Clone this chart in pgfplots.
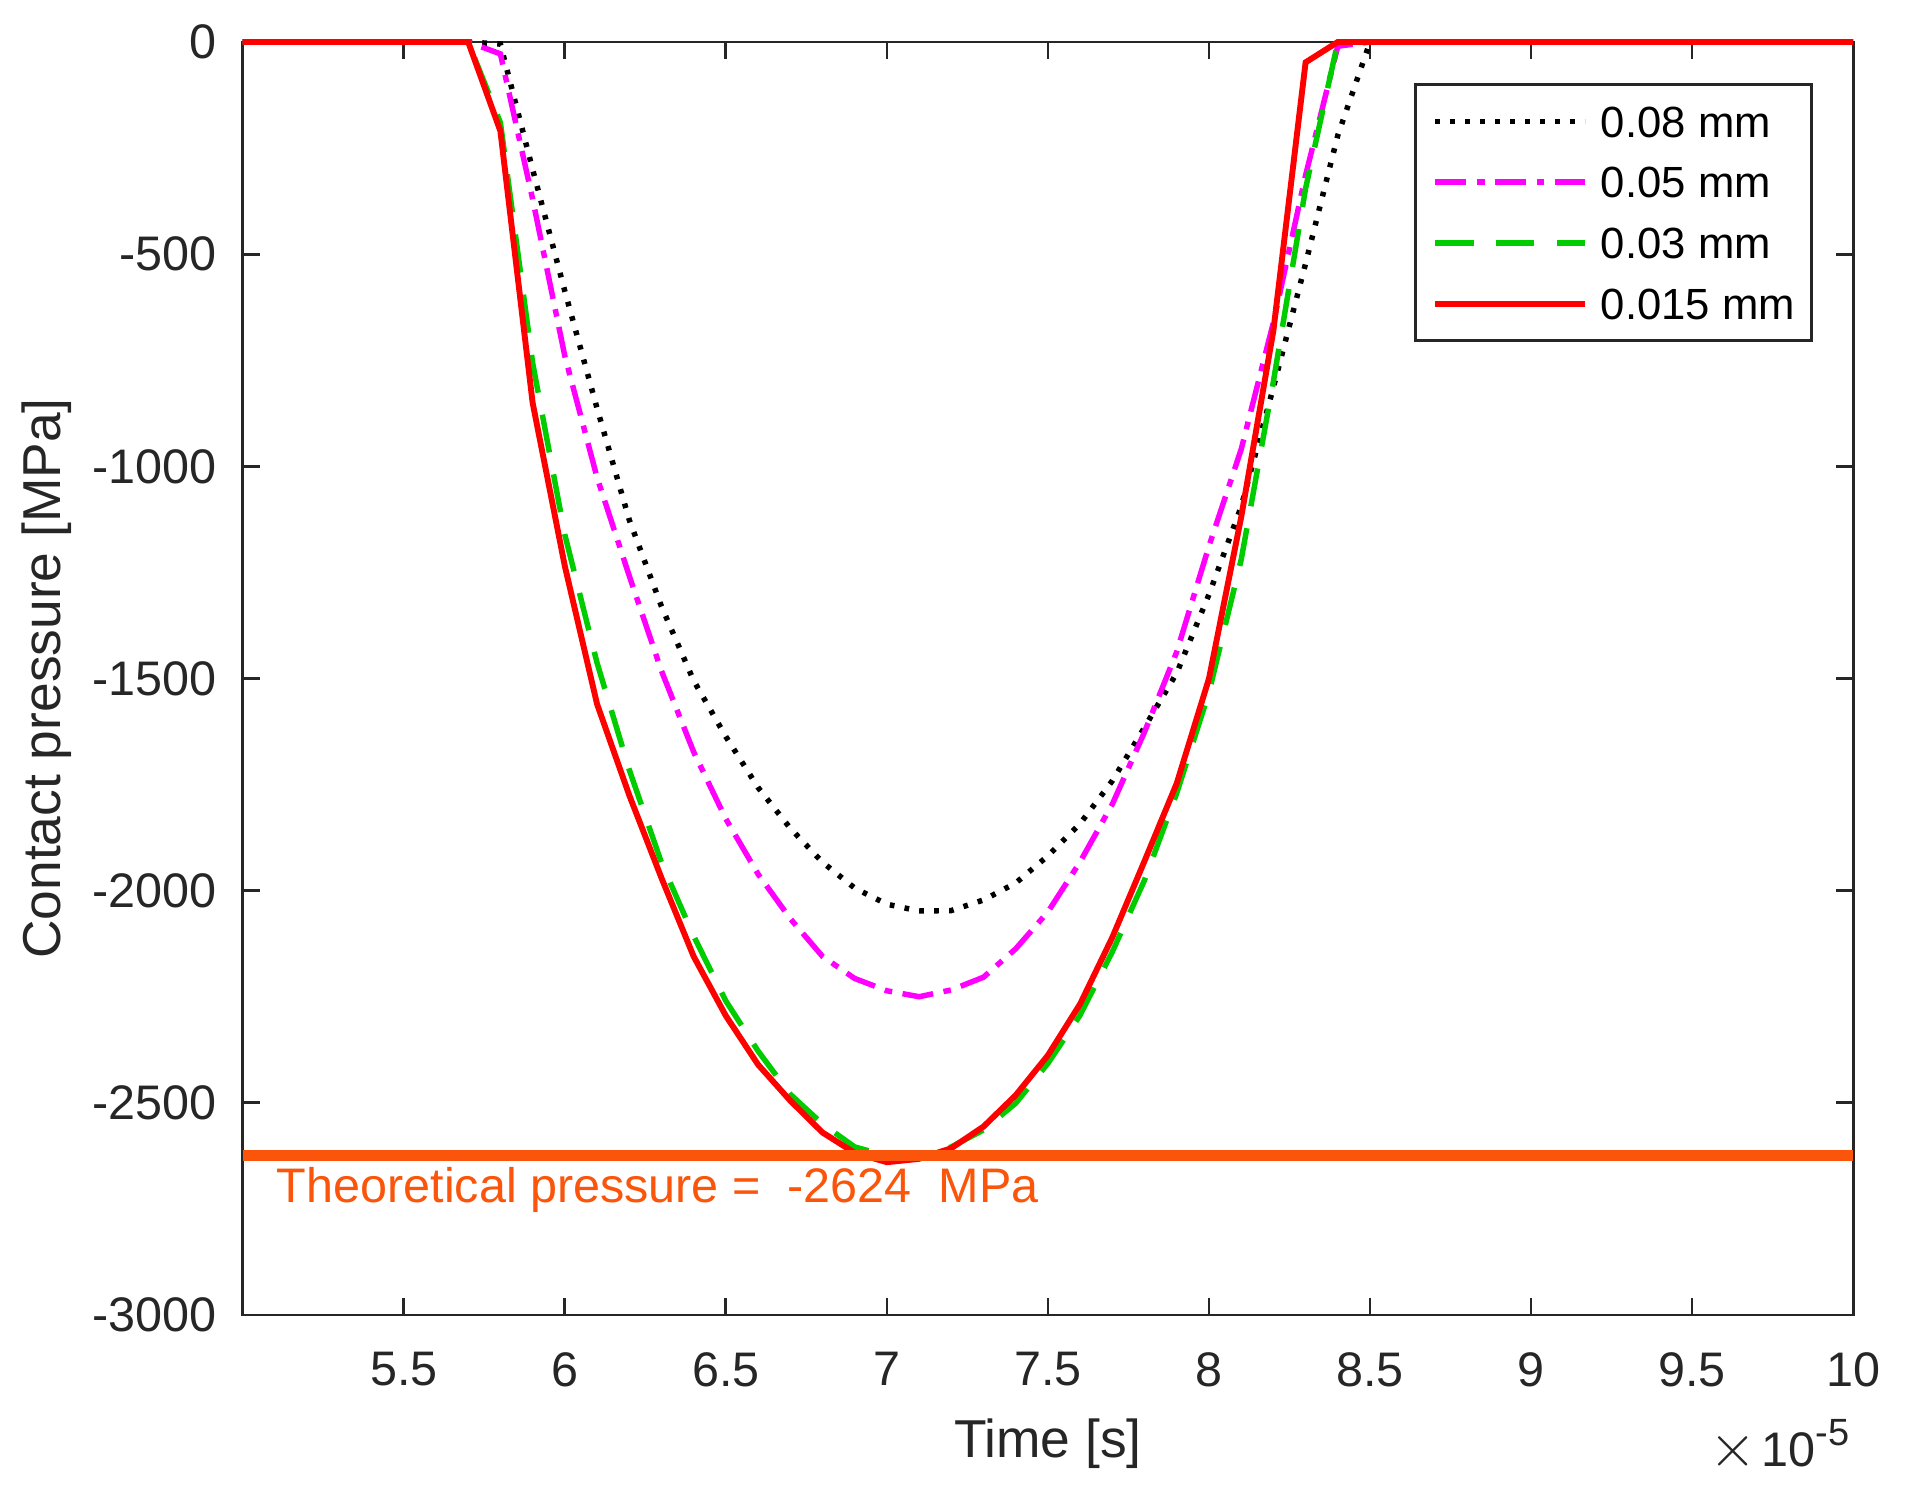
\documentclass[border=0pt]{standalone}
\usepackage{fontspec}
\setmainfont{Liberation Sans}
\usepackage{pgfplots}
\pgfplotsset{compat=1.18}
\definecolor{axgray}{RGB}{38,38,38}
\definecolor{theo}{RGB}{250,85,10}
\definecolor{mgreen}{RGB}{0,204,0}
\definecolor{mmag}{RGB}{255,0,255}
\definecolor{mred}{RGB}{255,0,0}
\begin{document}
\begin{tikzpicture}
\begin{axis}[
  name=ax,
  scale only axis,
  width=381.8pt, height=301.8pt,
  xmin=5, xmax=10, ymin=-3000, ymax=0,
  clip=false,
  axis line style={axgray, line width=0.65pt},
  every tick/.style={axgray, line width=0.65pt},
  major tick length=4pt,
  tick align=inside,
  xtick={5.5,6,6.5,7,7.5,8,8.5,9,9.5,10},
  xticklabels={5.5,6,6.5,7,7.5,8,8.5,9,9.5,10},
  ytick={-3000,-2500,-2000,-1500,-1000,-500,0},
  yticklabels={-3000,-2500,-2000,-1500,-1000,-500,0},
  /pgf/number format/assume math mode=true,
  ticklabel style={font=\fontsize{11.5}{13}\selectfont, text=axgray},
  xticklabel style={anchor=north, inner sep=0pt, yshift=-8.7pt},
  yticklabel style={anchor=east, inner sep=0pt, xshift=-6pt},
  xlabel={Time [s]},
  ylabel={Contact pressure [MPa]},
  label style={font=\fontsize{12.65}{15}\selectfont, text=axgray},
  xlabel style={at={(axis description cs:0.5,-0.1014)}, anchor=center, inner sep=0pt},
  ylabel style={at={(axis description cs:-0.122,0.5)}, anchor=center, inner sep=0pt},
  legend cell align=left,
  legend style={at={(axis description cs:0.975,0.9678)}, anchor=north east,
    draw=axgray, line width=0.65pt, fill=white,
    inner xsep=3.9pt, inner ysep=1.6pt, row sep=0pt, column sep=3.1pt,
    font=\fontsize{10.35}{12}\selectfont,
    nodes={inner sep=0pt, text height=10.9pt, text depth=3.5pt, text=black}},
  legend image code/.code={\draw[#1] (0pt,0pt) -- (35.5pt,0pt);},
]
\addplot[black, line width=1.3pt, line cap=butt, dash pattern=on 1.1pt off 2.45pt] coordinates {
(5.0,0)(5.7,0)(5.8,-5)(5.9,-300)(6.0,-587)(6.1,-863)(6.2,-1126)(6.3,-1330)(6.4,-1505)(6.5,-1637)(6.6,-1757)(6.7,-1853)(6.8,-1933)(6.9,-1994)(7.0,-2032)(7.1,-2048)(7.2,-2047)(7.3,-2022)(7.4,-1982)(7.5,-1918)(7.6,-1842)(7.7,-1741)(7.8,-1615)(7.9,-1487)(8.0,-1302)(8.1,-1095)(8.2,-814)(8.3,-522)(8.4,-220)(8.5,0)(10,0)
};
\addlegendentry{0.08 mm}
\addplot[mmag, line width=1.3pt, line cap=butt, dash pattern=on 7.4pt off 2.5pt on 1.8pt off 2.5pt] coordinates {
(5.0,0)(5.7,0)(5.8,-28)(5.9,-370)(6.0,-740)(6.1,-1026)(6.2,-1258)(6.3,-1482)(6.4,-1673)(6.5,-1831)(6.6,-1961)(6.7,-2066)(6.8,-2155)(6.9,-2207)(7.0,-2236)(7.1,-2250)(7.2,-2234)(7.3,-2204)(7.4,-2137)(7.5,-2050)(7.6,-1932)(7.7,-1796)(7.8,-1626)(7.9,-1437)(8.0,-1188)(8.1,-960)(8.2,-661)(8.3,-314)(8.4,-10)(8.5,0)(10,0)
};
\addlegendentry{0.05 mm}
\addplot[mgreen, line width=1.3pt, line cap=butt, dash pattern=on 9.1pt off 5.3pt] coordinates {
(5.0,0)(5.7,0)(5.8,-190)(5.9,-756)(6.0,-1161)(6.1,-1463)(6.2,-1715)(6.3,-1934)(6.4,-2107)(6.5,-2260)(6.6,-2378)(6.7,-2480)(6.8,-2550)(6.9,-2604)(7.0,-2625)(7.1,-2630)(7.2,-2604)(7.3,-2564)(7.4,-2501)(7.5,-2407)(7.6,-2293)(7.7,-2144)(7.8,-1975)(7.9,-1770)(8.0,-1533)(8.1,-1220)(8.2,-800)(8.3,-345)(8.4,0)(10,0)
};
\addlegendentry{0.03 mm}
\addplot[mred, line width=1.4pt] coordinates {
(5.0,0)(5.7,0)(5.8,-210)(5.9,-850)(6.0,-1235)(6.1,-1560)(6.2,-1775)(6.3,-1970)(6.4,-2155)(6.5,-2295)(6.6,-2410)(6.7,-2495)(6.8,-2570)(6.9,-2618)(7.0,-2640)(7.1,-2632)(7.2,-2607)(7.3,-2556)(7.4,-2482)(7.5,-2388)(7.6,-2267)(7.7,-2110)(7.8,-1930)(7.9,-1747)(8.0,-1500)(8.1,-1120)(8.2,-680)(8.3,-48)(8.4,0)(10,0)
};
\addlegendentry{0.015 mm}
\addplot[theo, line width=2.55pt, forget plot] coordinates {(5,-2624)(10,-2624)};
\node[anchor=base west, inner sep=0pt, text=theo, font=\fontsize{11.5}{13}\selectfont] at (axis cs:5.1034,-2735.6) {Theoretical pressure =\ \ -2624\ \ MPa};
\node[anchor=base east, inner sep=0pt, text=axgray, font=\fontsize{11.5}{13}\selectfont] at (axis description cs:0.9981,-0.1193) {{\fontsize{14}{14}\selectfont$\times$}\kern1.2pt10\raisebox{5.1pt}{\fontsize{9}{10}\selectfont -5}};
\end{axis}
\pgfresetboundingbox
\path ([xshift=-57.55pt,yshift=-43.4pt]ax.south west) rectangle ([xshift=14.2pt,yshift=9.96pt]ax.north east);
\end{tikzpicture}
\end{document}
